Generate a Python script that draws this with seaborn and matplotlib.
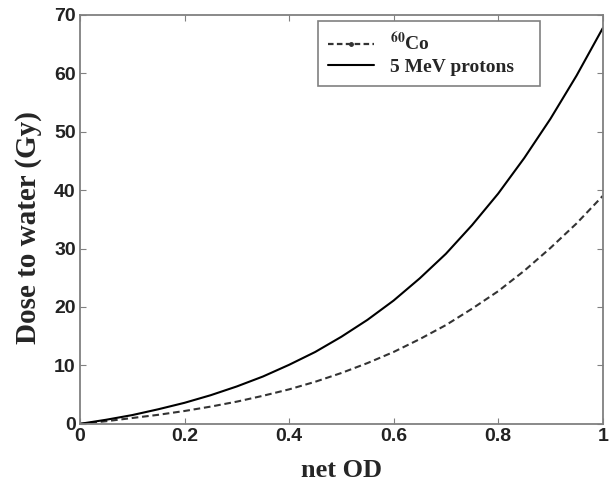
"""Dose to water vs net OD for 60Co and 5 MeV protons."""
import matplotlib as mpl
import matplotlib.pyplot as plt
import pandas as pd
import seaborn as sns
from matplotlib.lines import Line2D

net_od = [0.0, 0.05, 0.1, 0.15, 0.2, 0.25, 0.3, 0.35, 0.4, 0.45, 0.5,
          0.55, 0.6, 0.65, 0.7, 0.75, 0.8, 0.85, 0.9, 0.95, 1.0]
dose_protons = [0.0, 0.7, 1.5, 2.5, 3.6, 4.9, 6.4, 8.1, 10.1, 12.3, 14.9,
                17.8, 21.1, 24.9, 29.1, 34.0, 39.4, 45.5, 52.2, 59.6, 67.7]
dose_co60 = [0.0, 0.45, 1.0, 1.55, 2.2, 2.95, 3.8, 4.8, 5.9, 7.2, 8.7,
             10.4, 12.3, 14.5, 16.9, 19.7, 22.7, 26.2, 30.1, 34.3, 39.0]
x_ticks = [0, 0.2, 0.4, 0.6, 0.8, 1]
x_tick_labels = ["0", "0.2", "0.4", "0.6", "0.8", "1"]
y_ticks = [0, 10, 20, 30, 40, 50, 60, 70]

sns.set_style("ticks")
mpl.rcParams["font.family"] = ["Liberation Sans", "DejaVu Sans"]
mpl.rcParams["mathtext.fontset"] = "stix"

df = pd.DataFrame({"od": net_od, "protons": dose_protons, "co60": dose_co60})

fig = plt.figure(figsize=(6.15, 4.94), dpi=100)
ax = fig.add_axes([0.130, 0.142, 0.850, 0.828])

sns.lineplot(data=df, x="od", y="co60", ax=ax, color="#333333",
             linestyle=(0, (3.2, 1.8)), linewidth=1.5)
sns.lineplot(data=df, x="od", y="protons", ax=ax, color="black", linewidth=1.5)

ax.set_xlim(0, 1)
ax.set_ylim(0, 70)
ax.set_xticks(x_ticks)
ax.set_xticklabels(x_tick_labels)
ax.set_yticks(y_ticks)
for lab in ax.get_xticklabels() + ax.get_yticklabels():
    lab.set_fontweight("bold")
    lab.set_fontsize(14)
    lab.set_color("#222222")
ax.tick_params(direction="in", top=True, right=True, length=4,
               color="#808080", pad=3)
for sp in ax.spines.values():
    sp.set_color("#808080")
    sp.set_linewidth(1.3)

ax.set_xlabel("net OD", fontfamily="Liberation Serif", fontweight="bold",
              fontsize=19, labelpad=10)
ax.set_ylabel("Dose to water (Gy)", fontfamily="Liberation Serif",
              fontweight="bold", fontsize=21)
ax.yaxis.set_label_coords(-0.073, 0.48)

handles = [
    Line2D([], [], color="#333333", linestyle=(0, (2.5, 1.5)), linewidth=1.6,
           marker=".", markersize=5, markevery=[1]),
    Line2D([], [], color="black", linewidth=1.5),
]
leg = ax.legend(handles, [r"$\mathbf{^{60}}$Co", "5 MeV protons"],
                loc="upper left", bbox_to_anchor=(0.455, 0.985, 0.426, 0),
                mode="expand", fancybox=False, edgecolor="#808080",
                framealpha=1,
                prop={"family": "Liberation Serif", "weight": "bold", "size": 14},
                handlelength=2.4, borderpad=0.5, labelspacing=0.2,
                borderaxespad=0)
leg.get_frame().set_linewidth(1.2)

fig.savefig("out.png", dpi=100)
plt.close(fig)
